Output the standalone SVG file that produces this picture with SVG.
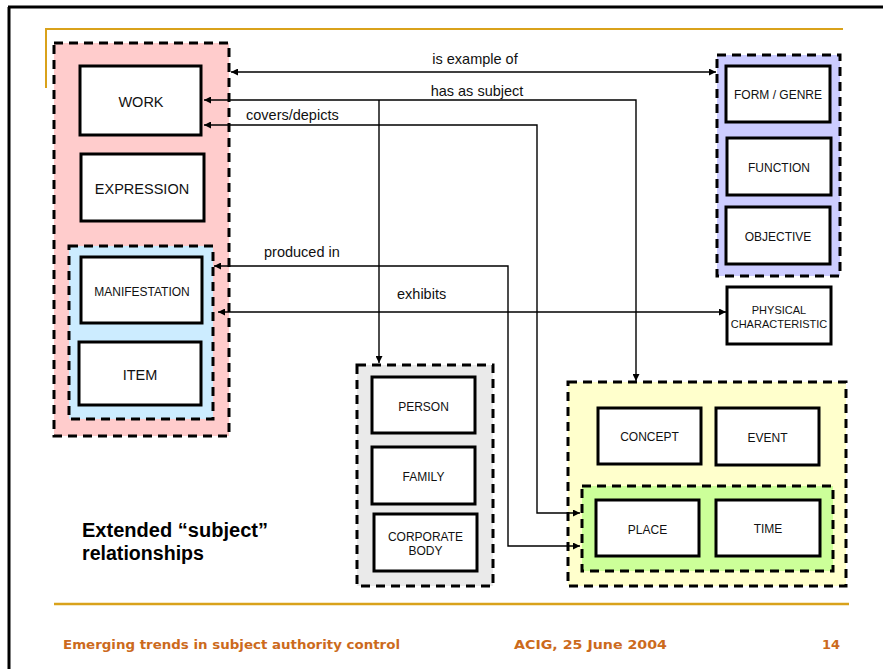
<svg xmlns="http://www.w3.org/2000/svg" width="883" height="669" viewBox="0 0 883 669">
<style>
.grp{stroke:#000;stroke-width:3;stroke-dasharray:9 6}
.box{fill:#fff;stroke:#000;stroke-width:3}
.t{font-family:"Liberation Sans",Arial,sans-serif;fill:#111;text-anchor:middle}
.lbl{font-family:"Liberation Sans",Arial,sans-serif;font-size:14.5px;fill:#111}
.con{fill:none;stroke:#000;stroke-width:1.4}
.foot{font-family:"DejaVu Sans",Verdana,sans-serif;font-weight:bold;font-size:13px;fill:#CC6A1C}
</style>
<defs>
<marker id="ah" viewBox="0 0 10 10" refX="10" refY="5" markerWidth="7" markerHeight="7" markerUnits="userSpaceOnUse" orient="auto-start-reverse">
<path d="M0,0 L10,5 L0,10 z" fill="#000"/>
</marker>
</defs>
<rect width="883" height="669" fill="#fff"/>
<g id="frame">
<path d="M8,7 H883 M9,7 V669" stroke="#000" stroke-width="3" fill="none"/>
<path d="M46,88 V29 H843" stroke="#D9A21B" stroke-width="2" fill="none"/>
<path d="M54,604 H849" stroke="#D9A21B" stroke-width="2.5" fill="none"/>
</g>
<g id="group-work">
<rect class="grp" x="54" y="43" width="175" height="393" fill="#FFCCCC"/>
</g>
<g id="group-manif">
<rect class="grp" x="69" y="246" width="144" height="173" fill="#CCECFF"/>
</g>
<g id="group-form">
<rect class="grp" x="717" y="55" width="123" height="221" fill="#CCCCFF"/>
</g>
<g id="group-agents">
<rect class="grp" x="357" y="365" width="136" height="221" fill="#EAEAEA"/>
</g>
<g id="group-subjects">
<rect class="grp" x="568" y="382" width="278" height="204" fill="#FFFFCC"/>
</g>
<g id="group-placetime">
<rect class="grp" x="582" y="486" width="251" height="85" fill="#CCFF99"/>
</g>
<g id="connectors">
<path class="con" d="M231,72 H716" marker-start="url(#ah)" marker-end="url(#ah)"/>
<path class="con" d="M204,100 H636 V381" marker-start="url(#ah)" marker-end="url(#ah)"/>
<path class="con" d="M379,100 V363" marker-end="url(#ah)"/>
<path class="con" d="M204,125 H537 V513 H580" marker-start="url(#ah)" marker-end="url(#ah)"/>
<path class="con" d="M214,266 H508 V546 H580" marker-start="url(#ah)" marker-end="url(#ah)"/>
<path class="con" d="M218,312 H726" marker-start="url(#ah)" marker-end="url(#ah)"/>
<text class="lbl" x="475" y="64" text-anchor="middle">is example of</text>
<text class="lbl" x="477" y="96" text-anchor="middle">has as subject</text>
<text class="lbl" x="246" y="120">covers/depicts</text>
<text class="lbl" x="264" y="257">produced in</text>
<text class="lbl" x="397" y="299">exhibits</text>
</g>
<g id="work">
<rect class="box" x="80" y="66" width="121" height="69"/>
<text class="t" x="141" y="107" font-size="14.5">WORK</text>
</g>
<g id="expression">
<rect class="box" x="81" y="154" width="123" height="67"/>
<text class="t" x="142" y="194" font-size="14.5">EXPRESSION</text>
</g>
<g id="manifestation">
<rect class="box" x="81" y="257" width="121" height="66"/>
<text class="t" x="142" y="296" font-size="12">MANIFESTATION</text>
</g>
<g id="item">
<rect class="box" x="79" y="342" width="122" height="63"/>
<text class="t" x="140" y="380" font-size="14.5">ITEM</text>
</g>
<g id="form-genre">
<rect class="box" x="726" y="66" width="104" height="56"/>
<text class="t" x="778" y="99" font-size="12">FORM / GENRE</text>
</g>
<g id="function">
<rect class="box" x="727" y="138" width="104" height="57"/>
<text class="t" x="779" y="172" font-size="12">FUNCTION</text>
</g>
<g id="objective">
<rect class="box" x="726" y="207" width="104" height="57"/>
<text class="t" x="778" y="241" font-size="12">OBJECTIVE</text>
</g>
<g id="physical">
<rect class="box" x="727" y="287" width="104" height="57"/>
<text class="t" x="779" y="314" font-size="11">PHYSICAL</text>
<text class="t" x="779" y="328" font-size="11">CHARACTERISTIC</text>
</g>
<g id="person">
<rect class="box" x="372" y="377" width="103" height="56"/>
<text class="t" x="423.5" y="411" font-size="12">PERSON</text>
</g>
<g id="family">
<rect class="box" x="372" y="447" width="103" height="57"/>
<text class="t" x="423.5" y="481" font-size="12">FAMILY</text>
</g>
<g id="corporate">
<rect class="box" x="374" y="514" width="103" height="57"/>
<text class="t" x="425.5" y="541" font-size="12">CORPORATE</text>
<text class="t" x="425.5" y="555" font-size="12">BODY</text>
</g>
<g id="concept">
<rect class="box" x="598" y="408" width="103" height="56"/>
<text class="t" x="649.5" y="441" font-size="12">CONCEPT</text>
</g>
<g id="event">
<rect class="box" x="716" y="408" width="103" height="57"/>
<text class="t" x="767.5" y="442" font-size="12">EVENT</text>
</g>
<g id="place">
<rect class="box" x="596" y="500" width="103" height="56"/>
<text class="t" x="647.5" y="534" font-size="12">PLACE</text>
</g>
<g id="time">
<rect class="box" x="716" y="500" width="104" height="56"/>
<text class="t" x="768" y="533" font-size="12">TIME</text>
</g>
<g id="title">
<text font-family="'Liberation Sans',Arial,sans-serif" font-weight="bold" font-size="19.5" fill="#000" x="82" y="537" textLength="186" lengthAdjust="spacingAndGlyphs">Extended “subject”</text>
<text font-family="'Liberation Sans',Arial,sans-serif" font-weight="bold" font-size="19.5" fill="#000" x="82" y="560" textLength="122" lengthAdjust="spacingAndGlyphs">relationships</text>
</g>
<g id="footer">
<text class="foot" x="63" y="649" textLength="337" lengthAdjust="spacingAndGlyphs">Emerging trends in subject authority control</text>
<text class="foot" x="514" y="649" textLength="153" lengthAdjust="spacingAndGlyphs">ACIG, 25 June 2004</text>
<text class="foot" x="822" y="649" textLength="18" lengthAdjust="spacingAndGlyphs">14</text>
</g>
</svg>
